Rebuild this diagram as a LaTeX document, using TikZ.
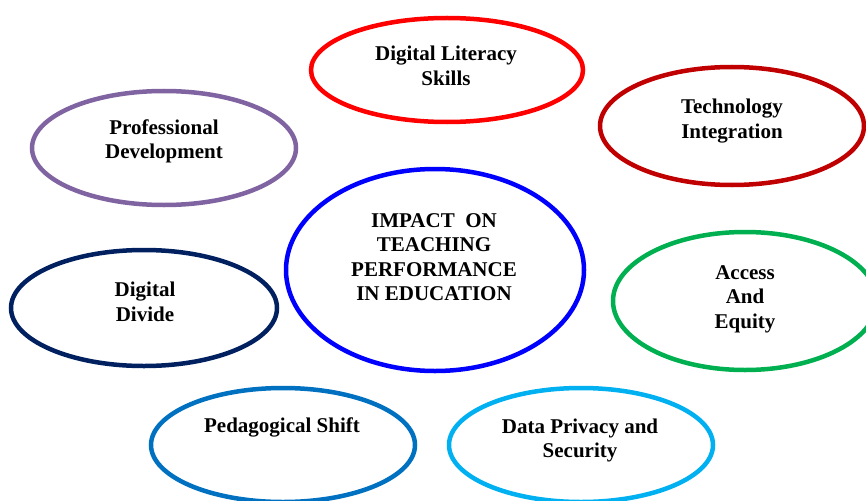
\documentclass[tikz,border=0pt]{standalone}
\usepackage{fontspec}
\setmainfont{Liberation Serif}[BoldFont={Liberation Serif Bold}]
\usetikzlibrary{shapes.geometric}
\definecolor{cRed}{HTML}{FF0000}
\definecolor{cDarkRed}{HTML}{C00000}
\definecolor{cPurple}{HTML}{8064A2}
\definecolor{cBlue}{HTML}{0000FF}
\definecolor{cNavy}{HTML}{002060}
\definecolor{cGreen}{HTML}{00B050}
\definecolor{cSteel}{HTML}{0070C0}
\definecolor{cSky}{HTML}{00B0F0}
\begin{document}
\begin{tikzpicture}[x=1pt,y=-1pt,
  oval/.style={draw=#1,line width=4.5pt,ellipse,inner sep=0pt,fill=none},
  lbl/.style={align=center,font=\fontsize{21}{24.5}\selectfont\bfseries,inner sep=0pt,text=black}]
\useasboundingbox (0,0) rectangle (866,500);
\begin{scope}
\clip (0,0) rectangle (866,500);
\node[oval=cRed,minimum width=272pt,minimum height=104pt] (dls) at (447,70) {};
\node[oval=cDarkRed,minimum width=264pt,minimum height=118pt] (ti) at (732,126) {};
\node[oval=cPurple,minimum width=264pt,minimum height=114pt] (pd) at (164,148) {};
\node[oval=cBlue,minimum width=298pt,minimum height=202pt] (imp) at (435,270) {};
\node[oval=cNavy,minimum width=266pt,minimum height=116pt] (dd) at (144,308) {};
\node[oval=cGreen,minimum width=264pt,minimum height=138pt] (ae) at (745,301) {};
\node[oval=cSteel,minimum width=264pt,minimum height=114pt] (ps) at (283,445) {};
\node[oval=cSky,minimum width=264pt,minimum height=114pt] (dp) at (581,445) {};
\end{scope}
\node[lbl] (tdls) at (446,66) {Digital Literacy\\Skills};
\node[lbl] (tti) at (732,121) {Technology\\Integration};
\node[lbl] (tpd) at (164,141.5) {Professional\\Development};
\node[lbl] (tdd) at (145,302) {Digital\\Divide};
\node[lbl] (timp) at (434,257) {IMPACT\ \ ON\\TEACHING\\PERFORMANCE\\IN EDUCATION};
\node[lbl] (tae) at (745,299) {Access\\And\\Equity};
\node[lbl] (tps) at (282,427) {Pedagogical Shift};
\node[lbl] (tdp) at (580,440.5) {Data Privacy and\\Security};
\end{tikzpicture}
\end{document}
